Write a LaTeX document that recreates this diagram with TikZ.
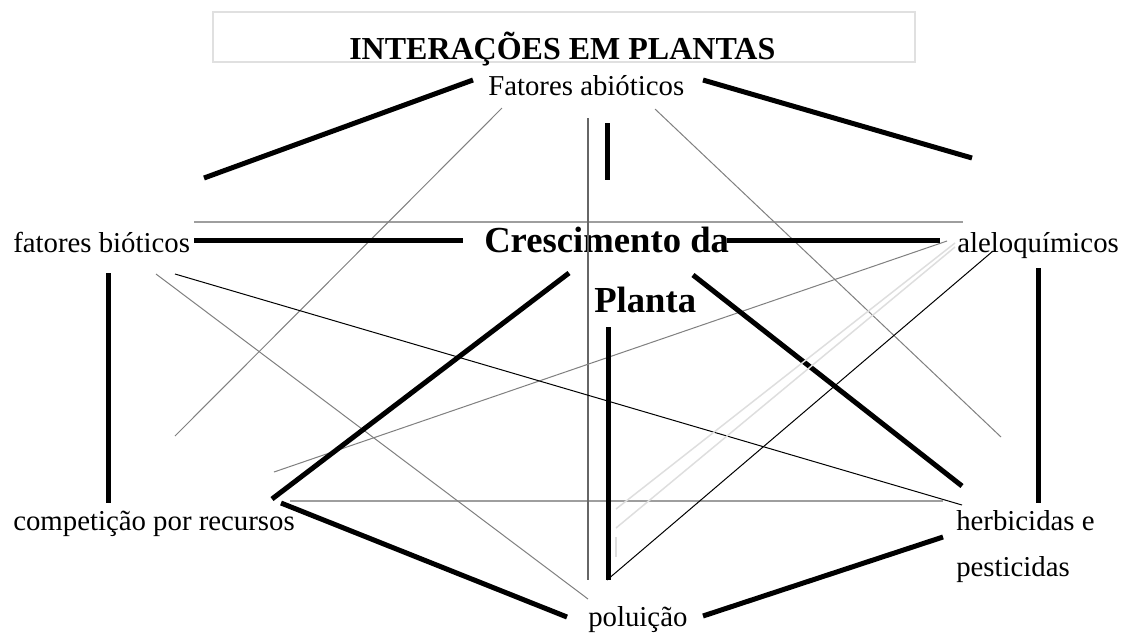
\documentclass[tikz,border=0pt]{standalone}
\usepackage{fontspec}
\setmainfont{Liberation Serif}
\begin{document}
\begin{tikzpicture}[x=0.75pt,y=-0.75pt,
  lbl/.style={inner sep=0pt, anchor=base west, font=\fontsize{21.6pt}{26pt}\selectfont},
  bigb/.style={inner sep=0pt, anchor=base west, font=\fontsize{27.5pt}{33pt}\selectfont\bfseries},
  ttl/.style={inner sep=0pt, anchor=base west, font=\fontsize{24pt}{29pt}\selectfont\bfseries},
  thickln/.style={line width=3.75pt, draw=black},
  thinln/.style={line width=0.75pt, draw=black},
  grayln/.style={line width=0.75pt, draw=black!50},
  hgrayln/.style={line width=1.1pt, draw=black!38},
  vgrayln/.style={line width=1.1pt, draw=black!60},
  lightln/.style={line width=1.1pt, draw=black!13},
  boxln/.style={line width=1pt, draw=black!12}
]
\useasboundingbox (0,0) rectangle (1121,633);
\fill[white] (0,0) rectangle (1121,633);

% title box
\coordinate (boxA) at (213,12);
\coordinate (boxB) at (915,62);
\draw[boxln] (boxA) rectangle (boxB);

% labels
\node[ttl] (title) at (349,59) {INTERAÇÕES EM PLANTAS};
\node[lbl] (abio) at (488,95) {Fatores abióticos};
\node[lbl] (bio) at (13,252) {fatores bióticos};
\node[bigb] (cresc) at (484,252) {Crescimento da};
\node[bigb] (planta) at (594,312) {Planta};
\node[lbl] (alelo) at (957,252) {aleloquímicos};
\node[lbl] (comp) at (13,530) {competição por recursos};
\node[lbl] (herb) at (956,530) {herbicidas e};
\node[lbl] (pest) at (956,576) {pesticidas};
\node[lbl] (polu) at (588,626) {poluição};

% endpoints
\coordinate (g1a) at (194,222); \coordinate (g1b) at (963,222);
\coordinate (g2a) at (290,501); \coordinate (g2b) at (943,501);
\coordinate (g3a) at (588,118); \coordinate (g3b) at (588,580);
\coordinate (g4a) at (502,108); \coordinate (g4b) at (175,436);
\coordinate (g5a) at (655,109); \coordinate (g5b) at (1001,437);
\coordinate (g6a) at (156,274); \coordinate (g6b) at (588,599);
\coordinate (g7a) at (274,472); \coordinate (g7b) at (947,241);
\coordinate (l1a) at (616,509); \coordinate (l1b) at (955,243);
\coordinate (l2a) at (616,528); \coordinate (l2b) at (955,247);
\coordinate (l3a) at (616,537); \coordinate (l3b) at (616,557);
\coordinate (b1a) at (175,274); \coordinate (b1b) at (962,505);
\coordinate (b2a) at (607,580); \coordinate (b2b) at (993,251);
\coordinate (t1a) at (204,178); \coordinate (t1b) at (473,80);
\coordinate (t2a) at (703,80);  \coordinate (t2b) at (972,158);
\coordinate (t3a) at (607,123); \coordinate (t3b) at (607,180);
\coordinate (t4a) at (194,240); \coordinate (t4b) at (463,240);
\coordinate (t5a) at (727,240); \coordinate (t5b) at (940,240);
\coordinate (t6a) at (108,273); \coordinate (t6b) at (108,503);
\coordinate (t7a) at (1038,268); \coordinate (t7b) at (1038,503);
\coordinate (t8a) at (569,273); \coordinate (t8b) at (272,499);
\coordinate (t9a) at (693,275); \coordinate (t9b) at (962,486);
\coordinate (t10a) at (608,327); \coordinate (t10b) at (608,580);
\coordinate (t11a) at (281,503); \coordinate (t11b) at (567,617);
\coordinate (t12a) at (703,616); \coordinate (t12b) at (943,537);

% gray lines
\draw[hgrayln] (g1a) -- (g1b);
\draw[hgrayln] (g2a) -- (g2b);
\draw[vgrayln] (g3a) -- (g3b);
\draw[grayln] (g4a) -- (g4b);
\draw[grayln] (g5a) -- (g5b);
\draw[grayln] (g6a) -- (g6b);
\draw[grayln] (g7a) -- (g7b);
% thin black lines
\draw[thinln] (b1a) -- (b1b);
\draw[thinln] (b2a) -- (b2b);
% thick lines
\draw[thickln] (t1a) -- (t1b);
\draw[thickln] (t2a) -- (t2b);
\draw[thickln] (t3a) -- (t3b);
\draw[thickln] (t4a) -- (t4b);
\draw[thickln] (t5a) -- (t5b);
\draw[thickln] (t6a) -- (t6b);
\draw[thickln] (t7a) -- (t7b);
\draw[thickln] (t8a) -- (t8b);
\draw[thickln] (t9a) -- (t9b);
\draw[thickln] (t10a) -- (t10b);
\draw[thickln] (t11a) -- (t11b);
\draw[thickln] (t12a) -- (t12b);
% light gray lines
\draw[lightln] (l1a) -- (l1b);
\draw[lightln] (l2a) -- (l2b);
\draw[lightln] (l3a) -- (l3b);
\end{tikzpicture}
\end{document}
